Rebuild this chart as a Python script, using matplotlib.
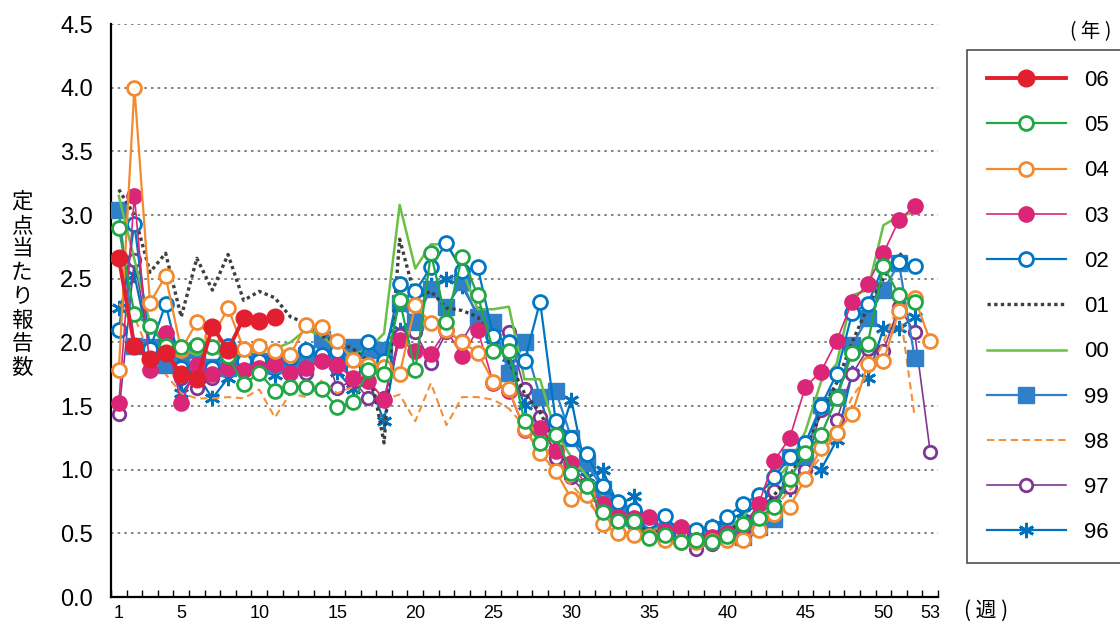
import numpy as np
import matplotlib
matplotlib.use("Agg")
import matplotlib.pyplot as plt
from matplotlib.ticker import MultipleLocator, FixedLocator

plt.rcParams['font.family'] = ['Liberation Sans', 'Noto Sans CJK JP', 'DejaVu Sans']

# weekly values per year (週 1..)
y06 = [2.66, 1.97, 1.87, 1.92, 1.75, 1.71, 2.12, 1.94, 2.19, 2.17, 2.20]
y05 = [2.90, 2.22, 2.13, 1.97, 1.96, 1.98, 1.96, 1.89, 1.67, 1.76,
       1.62, 1.65, 1.65, 1.63, 1.49, 1.53, 1.78, 1.75, 2.33, 1.78,
       2.70, 2.16, 2.67, 2.37, 1.93, 1.93, 1.38, 1.21, 1.27, 0.97,
       0.87, 0.67, 0.60, 0.60, 0.46, 0.49, 0.43, 0.45, 0.43, 0.48,
       0.57, 0.62, 0.71, 0.93, 1.13, 1.27, 1.56, 1.92, 1.99, 2.60,
       2.37, 2.32]
y04 = [1.78, 4.00, 2.31, 2.52, 1.94, 2.16, 2.04, 2.27, 1.95, 1.97,
       1.93, 1.90, 2.14, 2.12, 2.01, 1.86, 1.82, 1.81, 1.75, 2.29,
       2.15, 2.10, 2.00, 1.92, 1.69, 1.63, 1.32, 1.13, 0.99, 0.77,
       0.80, 0.57, 0.50, 0.49, 0.48, 0.45, 0.43, 0.43, 0.44, 0.45,
       0.45, 0.53, 0.65, 0.71, 0.93, 1.17, 1.29, 1.44, 1.83, 1.85,
       2.25, 2.35, 2.01]
y03 = [1.52, 3.15, 1.78, 2.07, 1.52, 1.82, 1.75, 1.80, 1.78, 1.80,
       1.83, 1.76, 1.80, 1.85, 1.82, 1.72, 1.70, 1.55, 2.02, 1.93,
       1.91, 2.10, 1.89, 2.10, 1.68, 1.62, 1.31, 1.33, 1.15, 1.05,
       0.87, 0.73, 0.63, 0.62, 0.63, 0.52, 0.55, 0.45, 0.47, 0.50,
       0.55, 0.73, 1.07, 1.25, 1.65, 1.77, 2.01, 2.32, 2.46, 2.70,
       2.96, 3.07]
y02 = [2.10, 2.93, 1.95, 2.30, 1.80, 1.75, 1.80, 1.97, 1.85, 1.85,
       1.89, 1.88, 1.94, 1.90, 1.93, 1.79, 2.00, 1.85, 2.46, 2.40,
       2.59, 2.78, 2.56, 2.59, 2.05, 2.00, 1.85, 2.32, 1.38, 1.25,
       1.12, 0.87, 0.75, 0.68, 0.60, 0.64, 0.50, 0.53, 0.55, 0.63,
       0.73, 0.80, 0.94, 1.10, 1.21, 1.50, 1.75, 2.23, 2.30, 2.60,
       2.63, 2.60]
y01 = [3.20, 3.00, 2.55, 2.70, 2.20, 2.66, 2.41, 2.69, 2.33, 2.40,
       2.35, 2.20, 2.15, 2.05, 2.00, 1.95, 1.85, 1.21, 2.81, 2.35,
       2.40, 2.27, 2.25, 2.20, 2.00, 1.85, 1.60, 1.45, 1.20, 1.00,
       0.85, 0.72, 0.65, 0.58, 0.52, 0.50, 0.48, 0.47, 0.48, 0.52,
       0.58, 0.68, 0.80, 0.95, 1.15, 1.45, 1.68, 2.00, 2.28, 2.50,
       2.70, 2.60]
y00 = [3.15, 2.65, 2.15, 2.00, 1.95, 1.90, 1.95, 1.85, 1.90, 1.95,
       1.95, 2.00, 2.10, 2.05, 1.95, 1.90, 1.95, 2.07, 3.08, 2.58,
       2.77, 2.77, 2.57, 2.26, 2.26, 2.28, 1.71, 1.71, 1.29, 1.10,
       0.95, 0.80, 0.68, 0.60, 0.55, 0.52, 0.50, 0.50, 0.52, 0.55,
       0.62, 0.83, 0.90, 1.05, 1.30, 1.69, 1.83, 2.37, 2.41, 2.92,
       2.99, 3.02]
y99 = [3.04, 1.97, 1.96, 1.82, 1.85, 1.94, 1.81, 1.80, 1.83, 1.85,
       1.82, 1.83, 1.90, 2.03, 1.85, 1.96, 1.94, 1.94, 2.31, 2.16,
       2.42, 2.28, 2.47, 2.20, 2.16, 1.76, 2.00, 1.57, 1.62, 1.25,
       1.05, 0.85, 0.70, 0.62, 0.55, 0.52, 0.50, 0.47, 0.48, 0.50,
       0.47, 0.55, 0.61, 1.10, 1.11, 1.51, 1.57, 1.98, 2.19, 2.41,
       2.62, 1.88]
y98 = [2.30, 2.20, 1.90, 1.75, 1.60, 1.56, 1.56, 1.57, 1.56, 1.63,
       1.41, 1.60, 1.57, 1.70, 1.60, 1.65, 1.70, 1.55, 1.59, 1.38,
       1.68, 1.35, 1.57, 1.57, 1.55, 1.48, 1.34, 1.13, 0.98, 0.88,
       0.75, 0.62, 0.55, 0.50, 0.47, 0.45, 0.45, 0.44, 0.45, 0.48,
       0.52, 0.60, 0.70, 0.84, 0.95, 1.10, 1.30, 1.57, 1.75, 2.00,
       2.30, 1.42]
y97 = [1.44, 2.65, 1.96, 2.03, 1.72, 1.64, 1.72, 1.80, 1.82, 1.82,
       1.85, 1.80, 1.76, 2.00, 1.64, 1.70, 1.56, 1.56, 2.06, 2.08,
       1.84, 2.08, 2.01, 2.22, 2.10, 2.08, 1.63, 1.41, 1.09, 0.94,
       0.80, 0.70, 0.62, 0.57, 0.50, 0.47, 0.43, 0.38, 0.42, 0.48,
       0.50, 0.74, 0.83, 0.86, 1.00, 1.47, 1.39, 1.75, 1.95, 1.93,
       2.28, 2.08, 1.14]
y96 = [2.27, 2.53, 1.95, 2.05, 1.60, 1.75, 1.56, 1.72, 1.78, 1.78,
       1.74, 1.81, 1.84, 1.88, 1.77, 1.63, 1.70, 1.38, 2.10, 2.19,
       2.45, 2.50, 2.44, 2.22, 2.03, 1.84, 1.51, 1.57, 1.16, 1.55,
       0.94, 1.00, 0.72, 0.79, 0.55, 0.55, 0.53, 0.50, 0.56, 0.60,
       0.66, 0.72, 0.78, 0.85, 1.05, 1.00, 1.23, 1.76, 1.72, 2.11,
       2.11, 2.20]

# label, data, color, line style, line width, marker, marker size, filled
series = [
    ("06", y06, "#E21F2F", "-", 2.8, "o", 12, True),
    ("05", y05, "#21A745", "-", 1.6, "o", 10, False),
    ("04", y04, "#F28A30", "-", 1.6, "o", 10, False),
    ("03", y03, "#DB2577", "-", 1.2, "o", 11, True),
    ("02", y02, "#0077C5", "-", 1.6, "o", 10, False),
    ("01", y01, "#3F3F3F", (0, (1, 1.0)), 2.4, None, 0, False),
    ("00", y00, "#6ABF46", "-", 1.8, None, 0, False),
    ("99", y99, "#2F80C8", "-", 1.6, "s", 11, True),
    ("98", y98, "#F4903A", (0, (3.5, 2.2)), 1.5, None, 0, False),
    ("97", y97, "#7E3794", "-", 1.2, "o", 9, False),
    ("96", y96, "#0072BE", "-", 1.6, (6, 2, 0), 11, False),
]

fig = plt.figure(figsize=(11.2, 6.25), dpi=100)
ax = fig.add_axes([111 / 1120, 28 / 625, (938 - 111) / 1120, (597 - 24) / 625])

handles = {}
for z, (lab, vals, col, ls, lw, mk, ms, filled) in enumerate(reversed(series)):
    wk = np.arange(1, len(vals) + 1)
    kw = dict(color=col, linestyle=ls, linewidth=lw, label=lab, zorder=3 + z)
    if mk is not None:
        kw.update(marker=mk, markersize=ms, markeredgecolor=col,
                  markeredgewidth=1.0 if filled else 2.0,
                  markerfacecolor=col if filled else "white")
    line, = ax.plot(wk, vals, **kw)
    handles[lab] = line

ax.set_xlim(0.5, 53.5)
ax.set_ylim(0, 4.5)
ax.yaxis.set_major_locator(MultipleLocator(0.5))
ax.yaxis.set_major_formatter(plt.FuncFormatter(lambda v, p: f"{v:.1f}"))
ax.grid(axis="y", color="#6e6e6e", linestyle=(0, (1.5, 2.5)), linewidth=1.2)
ax.set_axisbelow(True)

ax.xaxis.set_major_locator(FixedLocator([1, 5, 10, 15, 20, 25, 30, 35, 40, 45, 50, 53]))
ax.xaxis.set_minor_locator(FixedLocator(np.arange(0.5, 54, 1)))
ax.tick_params(axis="x", which="major", length=0, labelsize=13, pad=6)
ax.tick_params(axis="x", which="minor", direction="in", length=5, width=1, color="black")
ax.tick_params(axis="y", length=0, labelsize=17, pad=13)

for s in ["top", "right"]:
    ax.spines[s].set_visible(False)
for s in ["left", "bottom"]:
    ax.spines[s].set_linewidth(1.6)
    ax.spines[s].set_color("black")

leg = fig.legend([handles[s[0]] for s in series], [s[0] for s in series],
                 loc="upper left", bbox_to_anchor=(967 / 1120, 1 - 50 / 625),
                 borderaxespad=0, fontsize=16, handlelength=3.55,
                 handletextpad=0.8, labelspacing=1.09, borderpad=0.9,
                 frameon=True, fancybox=False, numpoints=1)
leg.get_frame().set_edgecolor("#222222")
leg.get_frame().set_linewidth(1.2)

fig.text(1091 / 1120, 1 - 32 / 625, "( 年 )", fontsize=14, ha="center", va="center",
         family=["Noto Sans CJK JP"])
fig.text(986 / 1120, 1 - 611 / 625, "( 週 )", fontsize=15, ha="center", va="center",
         family=["Noto Sans CJK JP"])
fig.text(22 / 1120, 1 - 285 / 625, "\n".join("定点当たり報告数"), fontsize=15.5,
         ha="center", va="center", linespacing=1.1, family=["Noto Sans CJK JP"])

fig.savefig("out.png", dpi=100)
